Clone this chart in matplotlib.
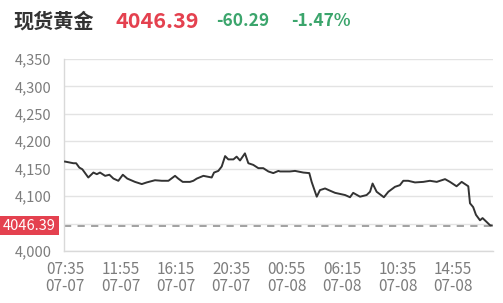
import matplotlib
matplotlib.use("Agg")
import matplotlib.pyplot as plt
import matplotlib.transforms as mtransforms

plt.rcParams['font.family'] = ['Noto Sans CJK SC', 'DejaVu Sans']

# ---- data ----
title = "现货黄金"
last_price = 4046.39
change = "-60.29"
change_pct = "-1.47%"

# trading-minute offsets from 07:35 (07-07)
minutes = [0, 39, 52, 67, 81, 109, 133, 149, 164, 188, 208, 227, 250, 271, 292,
           328, 360, 383, 422, 454, 485, 516, 531, 552, 586, 602, 618, 649, 688,
           699, 719, 735, 751, 766, 790, 805, 821, 844, 860, 883, 907, 930, 954,
           977, 1001, 1009, 1055, 1079, 1118, 1146, 1157, 1181, 1196, 1220, 1243,
           1267, 1314, 1337, 1352, 1384, 1415, 1431, 1443, 1462, 1496, 1517, 1548,
           1571, 1587, 1610, 1642, 1681, 1712, 1744, 1783, 1806, 1837, 1861, 1892,
           1900, 1915, 1928, 1947, 1959, 1978, 1994, 2002]
prices = [4163, 4160, 4160, 4152, 4149, 4134, 4143, 4140, 4143, 4137, 4139, 4132,
          4128, 4139, 4132, 4126, 4122, 4125, 4129, 4128, 4128, 4137, 4132, 4126,
          4126, 4128, 4132, 4137, 4134, 4143, 4146, 4154, 4173, 4167, 4167, 4172,
          4165, 4178, 4160, 4157, 4151, 4151, 4145, 4142, 4146, 4145, 4145, 4146,
          4143, 4142, 4126, 4099, 4111, 4114, 4110, 4106, 4102, 4098, 4106, 4099,
          4102, 4108, 4123, 4108, 4098, 4108, 4117, 4120, 4128, 4128, 4125, 4126,
          4128, 4126, 4131, 4126, 4118, 4126, 4118, 4087, 4080, 4066, 4056, 4060,
          4053, 4047, 4046.39]

tick_minutes = [0, 260, 520, 780, 1040, 1300, 1560, 1820]
tick_times = ["07:35", "11:55", "16:15", "20:35", "00:55", "06:15", "10:35", "14:55"]
tick_dates = ["07-07", "07-07", "07-07", "07-07", "07-08", "07-08", "07-08", "07-08"]
y_ticks = [4000, 4050, 4100, 4150, 4200, 4250, 4300, 4350]
hidden_y_label = 4050  # covered by the last-price tag

# ---- style ----
RED = "#e4414f"
GREEN = "#3ba56c"
LINE = "#333333"
GRID = "#e3e3e3"
LABEL = "#7d7d7d"

fig = plt.figure(figsize=(5.03, 3.03), dpi=100)
ax = fig.add_axes([64 / 503, 1 - 251 / 303, 429 / 503, 192 / 303])

ax.plot(minutes, prices, color=LINE, lw=1.4, zorder=3)
ax.axhline(last_price, color="#9a9a9a", lw=1.3, ls=(0, (4, 3.5)), zorder=2)

ax.set_xlim(-5, 2008)
ax.set_ylim(4000, 4350)
ax.set_yticks(y_ticks)
ax.set_yticklabels(["" if v == hidden_y_label else f"{v:,}" for v in y_ticks])
ax.set_xticks(tick_minutes)
ax.set_xticklabels([f"{t}\n{d}" for t, d in zip(tick_times, tick_dates)])
ax.grid(axis="y", color=GRID, lw=1)
ax.set_axisbelow(True)
ax.tick_params(length=0, labelcolor=LABEL)
ax.tick_params(axis="y", pad=9, labelsize=10.5)
ax.tick_params(axis="x", pad=7.5, labelsize=11)
for lbl in ax.get_xticklabels():
    lbl.set_linespacing(0.95)
for s in ["top", "right"]:
    ax.spines[s].set_visible(False)
for s in ["left", "bottom"]:
    ax.spines[s].set_color("#d9d9d9")
    ax.spines[s].set_linewidth(1)

# last-price tag on the y axis
trans = mtransforms.blended_transform_factory(fig.transFigure, ax.transData)
fig.text(3 / 503, last_price, f"{last_price:.2f}", transform=trans, ha="left",
         va="center", color="white", fontsize=10.5, zorder=10,
         bbox=dict(boxstyle="square,pad=0.18", fc=RED, ec="none"))

# header
fig.text(13 / 503, 1 - 21 / 303, title, fontsize=14.5, fontweight="bold",
         color="#333333", va="center", ha="left")
fig.text(115 / 503, 1 - 21 / 303, f"{last_price:.2f}", fontsize=15.5,
         fontweight="bold", color=RED, va="center", ha="left")
fig.text(216 / 503, 1 - 21 / 303, change, fontsize=12.5, fontweight="bold",
         color=GREEN, va="center", ha="left")
fig.text(291 / 503, 1 - 21 / 303, change_pct, fontsize=12.5, fontweight="bold",
         color=GREEN, va="center", ha="left")

fig.savefig("out.png", dpi=100)
